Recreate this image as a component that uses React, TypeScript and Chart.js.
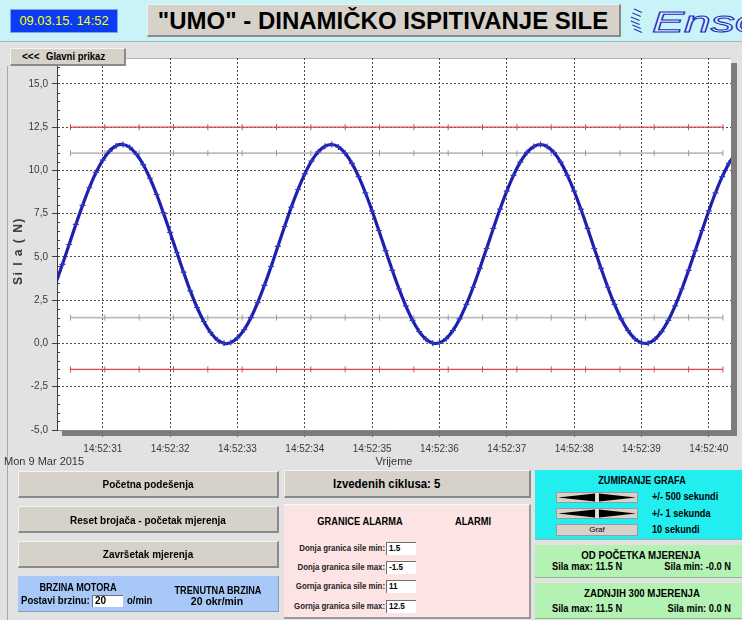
import React, { useEffect, useRef } from 'react';
import { Chart, registerables } from 'chart.js';

Chart.register(...registerables);

const SANS = "'Liberation Sans', Arial, Helvetica, sans-serif";

// ---- data ----
const sampleTimes = [
  30.3, 30.4, 30.5, 30.6, 30.7, 30.8, 30.9, 31.0, 31.1, 31.2,
  31.3, 31.4, 31.5, 31.6, 31.7, 31.8, 31.9, 32.0, 32.1, 32.2,
  32.3, 32.4, 32.5, 32.6, 32.7, 32.8, 32.9, 33.0, 33.1, 33.2,
  33.3, 33.4, 33.5, 33.6, 33.7, 33.8, 33.9, 34.0, 34.1, 34.2,
  34.3, 34.4, 34.5, 34.6, 34.7, 34.8, 34.9, 35.0, 35.1, 35.2,
  35.3, 35.4, 35.5, 35.6, 35.7, 35.8, 35.9, 36.0, 36.1, 36.2,
  36.3, 36.4, 36.5, 36.6, 36.7, 36.8, 36.9, 37.0, 37.1, 37.2,
  37.3, 37.4, 37.5, 37.6, 37.7, 37.8, 37.9, 38.0, 38.1, 38.2,
  38.3, 38.4, 38.5, 38.6, 38.7, 38.8, 38.9, 39.0, 39.1, 39.2,
  39.3, 39.4, 39.5, 39.6, 39.7, 39.8, 39.9, 40.0, 40.1, 40.2,
  40.3, 40.4,
];
const forceValues = [
  3.46, 4.57, 5.72, 6.88, 7.98, 9.00, 9.89, 10.60, 11.12, 11.43,
  11.50, 11.33, 10.94, 10.34, 9.55, 8.61, 7.55, 6.42, 5.26, 4.12,
  3.04, 2.08, 1.27, 0.64, 0.21, 0.01, 0.05, 0.32, 0.80, 1.49,
  2.36, 3.36, 4.45, 5.61, 6.76, 7.88, 8.90, 9.80, 10.54, 11.08,
  11.40, 11.50, 11.36, 10.99, 10.41, 9.64, 8.71, 7.66, 6.53, 5.37,
  4.23, 3.15, 2.17, 1.34, 0.69, 0.24, 0.02, 0.04, 0.28, 0.75,
  1.42, 2.26, 3.25, 4.34, 5.49, 6.65, 7.77, 8.81, 9.72, 10.48,
  11.04, 11.38, 11.50, 11.38, 11.04, 10.48, 9.72, 8.81, 7.77, 6.65,
  5.49, 4.34, 3.25, 2.26, 1.42, 0.75, 0.28, 0.04, 0.02, 0.25,
  0.69, 1.34, 2.17, 3.15, 4.23, 5.37, 6.53, 7.66, 8.71, 9.64,
  10.41, 10.99,
];
const xRange = [30.32, 40.33];
const yRange = [-5, 16.5];
const xTickValues = [31, 32, 33, 34, 35, 36, 37, 38, 39, 40];
const xTickLabels = ['14:52:31', '14:52:32', '14:52:33', '14:52:34', '14:52:35', '14:52:36', '14:52:37', '14:52:38', '14:52:39', '14:52:40'];
const yTickValues = [-5, -2.5, 0, 2.5, 5, 7.5, 10, 12.5, 15];
const yTickLabels = ['-5,0', '-2,5', '0,0', '2,5', '5,0', '7,5', '10,0', '12,5', '15,0'];
const limitTimes = [30.52, 31.03, 31.54, 32.05, 32.56, 33.07, 33.58, 34.09, 34.60, 35.11, 35.62, 36.13, 36.64, 37.15, 37.66, 38.17, 38.68, 39.19, 39.70, 40.21];
const alarmLabels = ['Donja granica sile min:', 'Donja granica sile max:', 'Gornja granica sile min:', 'Gornja granica sile max:'];
const alarmValues = [1.5, -1.5, 11, 12.5];
const alarmTexts = ['1.5', '-1.5', '11', '12.5'];

type TP = {
  x: number; y: number; s: string; size?: number; bold?: boolean; color?: string;
  align?: 'left' | 'center' | 'right'; sx?: number; family?: string; italic?: boolean;
};
function T({ x, y, s, size = 11, bold = true, color = '#000', align = 'left', sx = 1, family = SANS, italic = false }: TP) {
  const lh = Math.round(size * 1.2);
  const style: React.CSSProperties = {
    position: 'absolute', top: y - lh / 2, left: x, height: lh, lineHeight: lh + 'px',
    fontSize: size, fontWeight: bold ? 700 : 400, color, fontFamily: family, whiteSpace: 'nowrap',
    fontStyle: italic ? 'italic' : 'normal',
  };
  if (align === 'center') { style.transform = `translateX(-50%) scaleX(${sx})`; style.transformOrigin = 'center'; }
  else if (align === 'right') { style.transform = `translateX(-100%) scaleX(${sx})`; style.transformOrigin = 'right'; }
  else { style.transform = `scaleX(${sx})`; style.transformOrigin = 'left'; }
  return <div style={style}>{s}</div>;
}

const box = (left: number, top: number, width: number, height: number, bg: string, extra: React.CSSProperties = {}): React.CSSProperties => ({
  position: 'absolute', left, top, width, height, background: bg, boxSizing: 'border-box', ...extra,
});
const raised: React.CSSProperties = {
  borderTop: '1px solid #f4f4f4', borderLeft: '1px solid #f4f4f4',
  borderRight: '2px solid #8a8a8a', borderBottom: '2px solid #8a8a8a',
};
const BTN = '#d6d2ca';

function ArrowBtn({ top }: { top: number }) {
  return (
    <div style={box(556, top, 82, 11, BTN, { border: '1px solid #9a9a9a' })}>
      <svg width={80} height={9} style={{ position: 'absolute', left: 0, top: 0 }}>
        <polygon points="1,4.5 38,0.5 38,8.5" fill="#000" />
        <polygon points="42,0.5 79,4.5 42,8.5" fill="#000" />
        <line x1={40} y1={0} x2={40} y2={9} stroke="#f0f0f0" strokeWidth={1} />
      </svg>
    </div>
  );
}

export default function App() {
  const ref = useRef<HTMLCanvasElement | null>(null);

  useEffect(() => {
    document.body.style.margin = '0';
    const canvas = ref.current;
    if (!canvas) return;

    const shadowPlugin = {
      id: 'plotShadow',
      beforeDraw(chart: any) {
        const { ctx, chartArea } = chart;
        const { left, top, right, bottom } = chartArea;
        ctx.save();
        ctx.fillStyle = '#7c7c7c';
        ctx.fillRect(left + 5, top + 5, right - left + 1, bottom - top + 1);
        ctx.fillStyle = '#ffffff';
        ctx.fillRect(left, top, right - left, bottom - top);
        ctx.strokeStyle = '#b4b4b4';
        ctx.lineWidth = 1;
        ctx.beginPath();
        ctx.moveTo(left, top + 0.5);
        ctx.lineTo(right, top + 0.5);
        ctx.stroke();
        ctx.restore();
      },
    };
    const minorTicks = {
      id: 'minorTicks',
      afterDatasetsDraw(chart: any) {
        const y = chart.scales.y;
        const { left } = chart.chartArea;
        const ctx = chart.ctx;
        ctx.save();
        ctx.strokeStyle = '#404040';
        ctx.lineWidth = 1;
        for (let v = y.min; v <= y.max + 1e-9; v += 0.5) {
          const r = v / 2.5;
          if (Math.abs(r - Math.round(r)) < 1e-6) continue;
          const py = Math.round(y.getPixelForValue(v)) + 0.5;
          ctx.beginPath();
          ctx.moveTo(left, py);
          ctx.lineTo(left + 3, py);
          ctx.stroke();
        }
        ctx.restore();
      },
    };

    const limitSets = alarmValues.map((v, i) => {
      const red = i === 1 || i === 3;
      return {
        label: alarmLabels[i],
        data: limitTimes.map((t) => ({ x: t, y: v })),
        borderColor: red ? '#d84848' : '#bcbcbc',
        borderWidth: red ? 1.2 : 1.8,
        pointStyle: 'line' as const,
        pointRotation: 90,
        pointRadius: 3,
        pointBorderWidth: 1,
        pointBorderColor: red ? '#d84848' : '#9c9c9c',
        tension: 0,
      };
    });

    const chart = new Chart(canvas, {
      type: 'line',
      data: {
        datasets: [
          {
            label: 'Sila',
            data: sampleTimes.map((t, i) => ({ x: t, y: forceValues[i] })),
            borderColor: '#1c20ac',
            borderWidth: 3.2,
            pointStyle: 'cross',
            pointRadius: 3,
            pointBorderWidth: 1.2,
            pointBorderColor: '#3238c4',
            tension: 0.4,
            clip: 0,
          } as any,
          ...limitSets,
        ],
      },
      options: {
        animation: false,
        responsive: false,
        devicePixelRatio: 1,
        layout: { padding: { top: 16, right: 11, left: 0, bottom: 0 } },
        plugins: { legend: { display: false }, tooltip: { enabled: false } },
        scales: {
          x: {
            type: 'linear',
            min: xRange[0],
            max: xRange[1],
            afterBuildTicks: (s: any) => { s.ticks = xTickValues.map((v) => ({ value: v })); },
            afterFit: (s: any) => { s.height = 40; },
            ticks: {
              callback: (_v: any, i: number) => xTickLabels[i],
              font: { family: SANS, size: 10 },
              color: '#3a3a3a',
              padding: 5,
              maxRotation: 0,
              autoSkip: false,
            },
            grid: { color: '#4a4a4a', lineWidth: 1, tickColor: '#6a6a6a', tickLength: 8, tickBorderDash: [2, 2] },
            border: { dash: [2, 2], color: '#8a8a8a', width: 1 },
          },
          y: {
            type: 'linear',
            min: yRange[0],
            max: yRange[1],
            afterBuildTicks: (s: any) => { s.ticks = yTickValues.map((v) => ({ value: v })); },
            afterFit: (s: any) => { s.width = 57; },
            ticks: {
              callback: (_v: any, i: number) => yTickLabels[i],
              font: { family: SANS, size: 10 },
              color: '#3a3a3a',
              padding: 4,
              autoSkip: false,
            },
            grid: { color: '#4a4a4a', lineWidth: 1, tickColor: '#404040', tickLength: 5 },
            border: { dash: [2, 2], color: '#3a3a3a', width: 1 },
          },
        },
      } as any,
      plugins: [shadowPlugin, minorTicks],
    });
    return () => chart.destroy();
  }, []);

  return (
    <div style={{ position: 'relative', width: 742, height: 620, overflow: 'hidden', background: '#e2e2e2', fontFamily: SANS }}>
      {/* header */}
      <div style={box(0, 0, 742, 42, '#c8f3f7', { borderBottom: '1px solid #9ab8bc' })} />
      <div style={box(10, 9, 108, 24, '#0a3cf6', { border: '1px solid #8aa0e8' })} />
      <T x={64} y={21} s="09.03.15. 14:52" size={13.5} bold={false} color="#ffff00" align="center" sx={0.95} />
      <div style={box(147, 4, 474, 33, '#d6d2ca', { borderTop: '1px solid #f0f0f0', borderLeft: '1px solid #f0f0f0', borderRight: '2px solid #8a8a8a', borderBottom: '2px solid #8a8a8a' })} />
      <T x={383} y={20} s={'"UMO" - DINAMIČKO ISPITIVANJE SILE'} size={24} align="center" sx={1.0} />
      <svg width={30} height={32} style={{ position: 'absolute', left: 626, top: 5 }}>
        {[0, 1, 2, 3, 4, 5].map((i) => (
          <line key={i} x1={4 + Math.abs(i - 2.5) * 1.6} y1={4 + i * 4} x2={13 + Math.abs(i - 2.5) * 1.2} y2={7.5 + i * 4} stroke="#2434b0" strokeWidth={1.1} />
        ))}
      </svg>
      <div style={{
        position: 'absolute', left: 652, top: 7, fontSize: 30, lineHeight: '30px', fontStyle: 'italic',
        fontFamily: SANS, color: '#e4eeff', WebkitTextStroke: '1px #1a30c0', transform: 'scaleX(1.6)',
        transformOrigin: 'left', whiteSpace: 'nowrap',
      } as React.CSSProperties}>Enso</div>

      {/* chart panel frame line */}
      <div style={box(7, 66, 1, 554, '#a8a8a8')} />

      <canvas ref={ref} width={742} height={428} style={{ position: 'absolute', left: 0, top: 42, width: 742, height: 428 }} />

      <div style={box(10, 48, 116, 18, BTN, raised)} />
      <T x={22} y={57} s="<<<" size={10} />
      <T x={46} y={57} s="Glavni prikaz" size={10} sx={0.95} />

      <div style={{
        position: 'absolute', left: 18, top: 251, transform: 'translate(-50%, -50%) rotate(-90deg)',
        fontSize: 12, fontWeight: 700, color: '#333', fontFamily: SANS, whiteSpace: 'nowrap', letterSpacing: 1.5,
      }}>Si l a ( N)</div>
      <T x={394} y={461} s="Vrijeme" size={11} bold={false} color="#333" align="center" />
      <T x={4} y={461} s="Mon 9 Mar 2015" size={11} bold={false} color="#333" />

      {/* left buttons */}
      <div style={box(18, 471, 261, 27, BTN, raised)} />
      <T x={148} y={484} s="Početna podešenja" size={10.5} align="center" sx={0.95} />
      <div style={box(18, 506, 261, 27, BTN, raised)} />
      <T x={148} y={520} s="Reset brojača - početak mjerenja" size={10.5} align="center" sx={0.95} />
      <div style={box(18, 541, 261, 27, BTN, raised)} />
      <T x={148} y={554} s="Završetak mjerenja" size={10.5} align="center" sx={0.95} />

      <div style={box(18, 576, 261, 36, '#a8c8f8', { borderBottom: '1px solid #8a9ab8', borderRight: '1px solid #8a9ab8' })} />
      <T x={78} y={587} s="BRZINA MOTORA" size={10.5} align="center" sx={0.87} />
      <T x={218} y={590} s="TRENUTNA BRZINA" size={10.5} align="center" sx={0.87} />
      <T x={21} y={601} s="Postavi brzinu:" size={10} sx={0.96} />
      <div style={box(92, 595, 31, 12, '#ffffff', { borderTop: '1px solid #707070', borderLeft: '1px solid #707070' })} />
      <T x={95} y={601} s="20" size={10} />
      <T x={127} y={601} s="o/min" size={10} sx={0.95} />
      <T x={217} y={601} s="20 okr/min" size={11} align="center" sx={0.95} />

      {/* middle */}
      <div style={box(284, 470, 247, 28, BTN, raised)} />
      <T x={333} y={484} s="Izvedenih ciklusa: 5" size={13} sx={0.88} />
      <div style={box(284, 504, 247, 115, '#fde4e4', { borderTop: '1px solid #f8f8f8', borderRight: '2px solid #9a9a9a', borderBottom: '2px solid #9a9a9a' })} />
      <T x={360} y={522} s="GRANICE ALARMA" size={10} align="center" sx={0.93} />
      <T x={473} y={522} s="ALARMI" size={10} align="center" sx={0.93} />
      {alarmLabels.map((lab, i) => {
        const top = [542, 561, 580, 600][i];
        return (
          <React.Fragment key={lab}>
            <T x={385} y={top + 6.5} s={lab} size={9} align="right" sx={0.87} color="#222" />
            <div style={box(386, top, 30, 13, '#ffffff', { borderTop: '1px solid #707070', borderLeft: '1px solid #707070' })} />
            <T x={389} y={top + 6.5} s={alarmTexts[i]} size={9} sx={0.9} />
          </React.Fragment>
        );
      })}

      {/* right */}
      <div style={box(535, 470, 207, 70, '#22eef0', { borderBottom: '1px solid #8ab8b8' })} />
      <T x={642} y={481} s="ZUMIRANJE GRAFA" size={10} align="center" sx={0.91} />
      <ArrowBtn top={492} />
      <ArrowBtn top={508} />
      <div style={box(556, 524, 82, 12, BTN, { border: '1px solid #9a9a9a' })} />
      <T x={597} y={530} s="Graf" size={8} bold={false} align="center" />
      <T x={652} y={497} s="+/- 500 sekundi" size={10} sx={0.92} />
      <T x={652} y={514} s="+/- 1 sekunda" size={10} sx={0.92} />
      <T x={652} y={530} s="10  sekundi" size={10} sx={0.92} />

      <div style={box(535, 545, 207, 33, '#b4f2b4', { borderBottom: '1px solid #8ab88a' })} />
      <T x={641} y={555} s="OD POČETKA MJERENJA" size={10.5} align="center" sx={0.92} />
      <T x={552} y={567} s="Sila max: 11.5 N" size={10} sx={0.93} />
      <T x={731} y={567} s="Sila min: -0.0 N" size={10} align="right" sx={0.93} />

      <div style={box(535, 583, 207, 36, '#b4f2b4', { borderBottom: '1px solid #8ab88a' })} />
      <T x={642} y={593} s="ZADNJIH 300 MJERENJA" size={10.5} align="center" sx={0.92} />
      <T x={552} y={609} s="Sila max: 11.5 N" size={10} sx={0.93} />
      <T x={731} y={609} s="Sila min: 0.0 N" size={10} align="right" sx={0.93} />
    </div>
  );
}
